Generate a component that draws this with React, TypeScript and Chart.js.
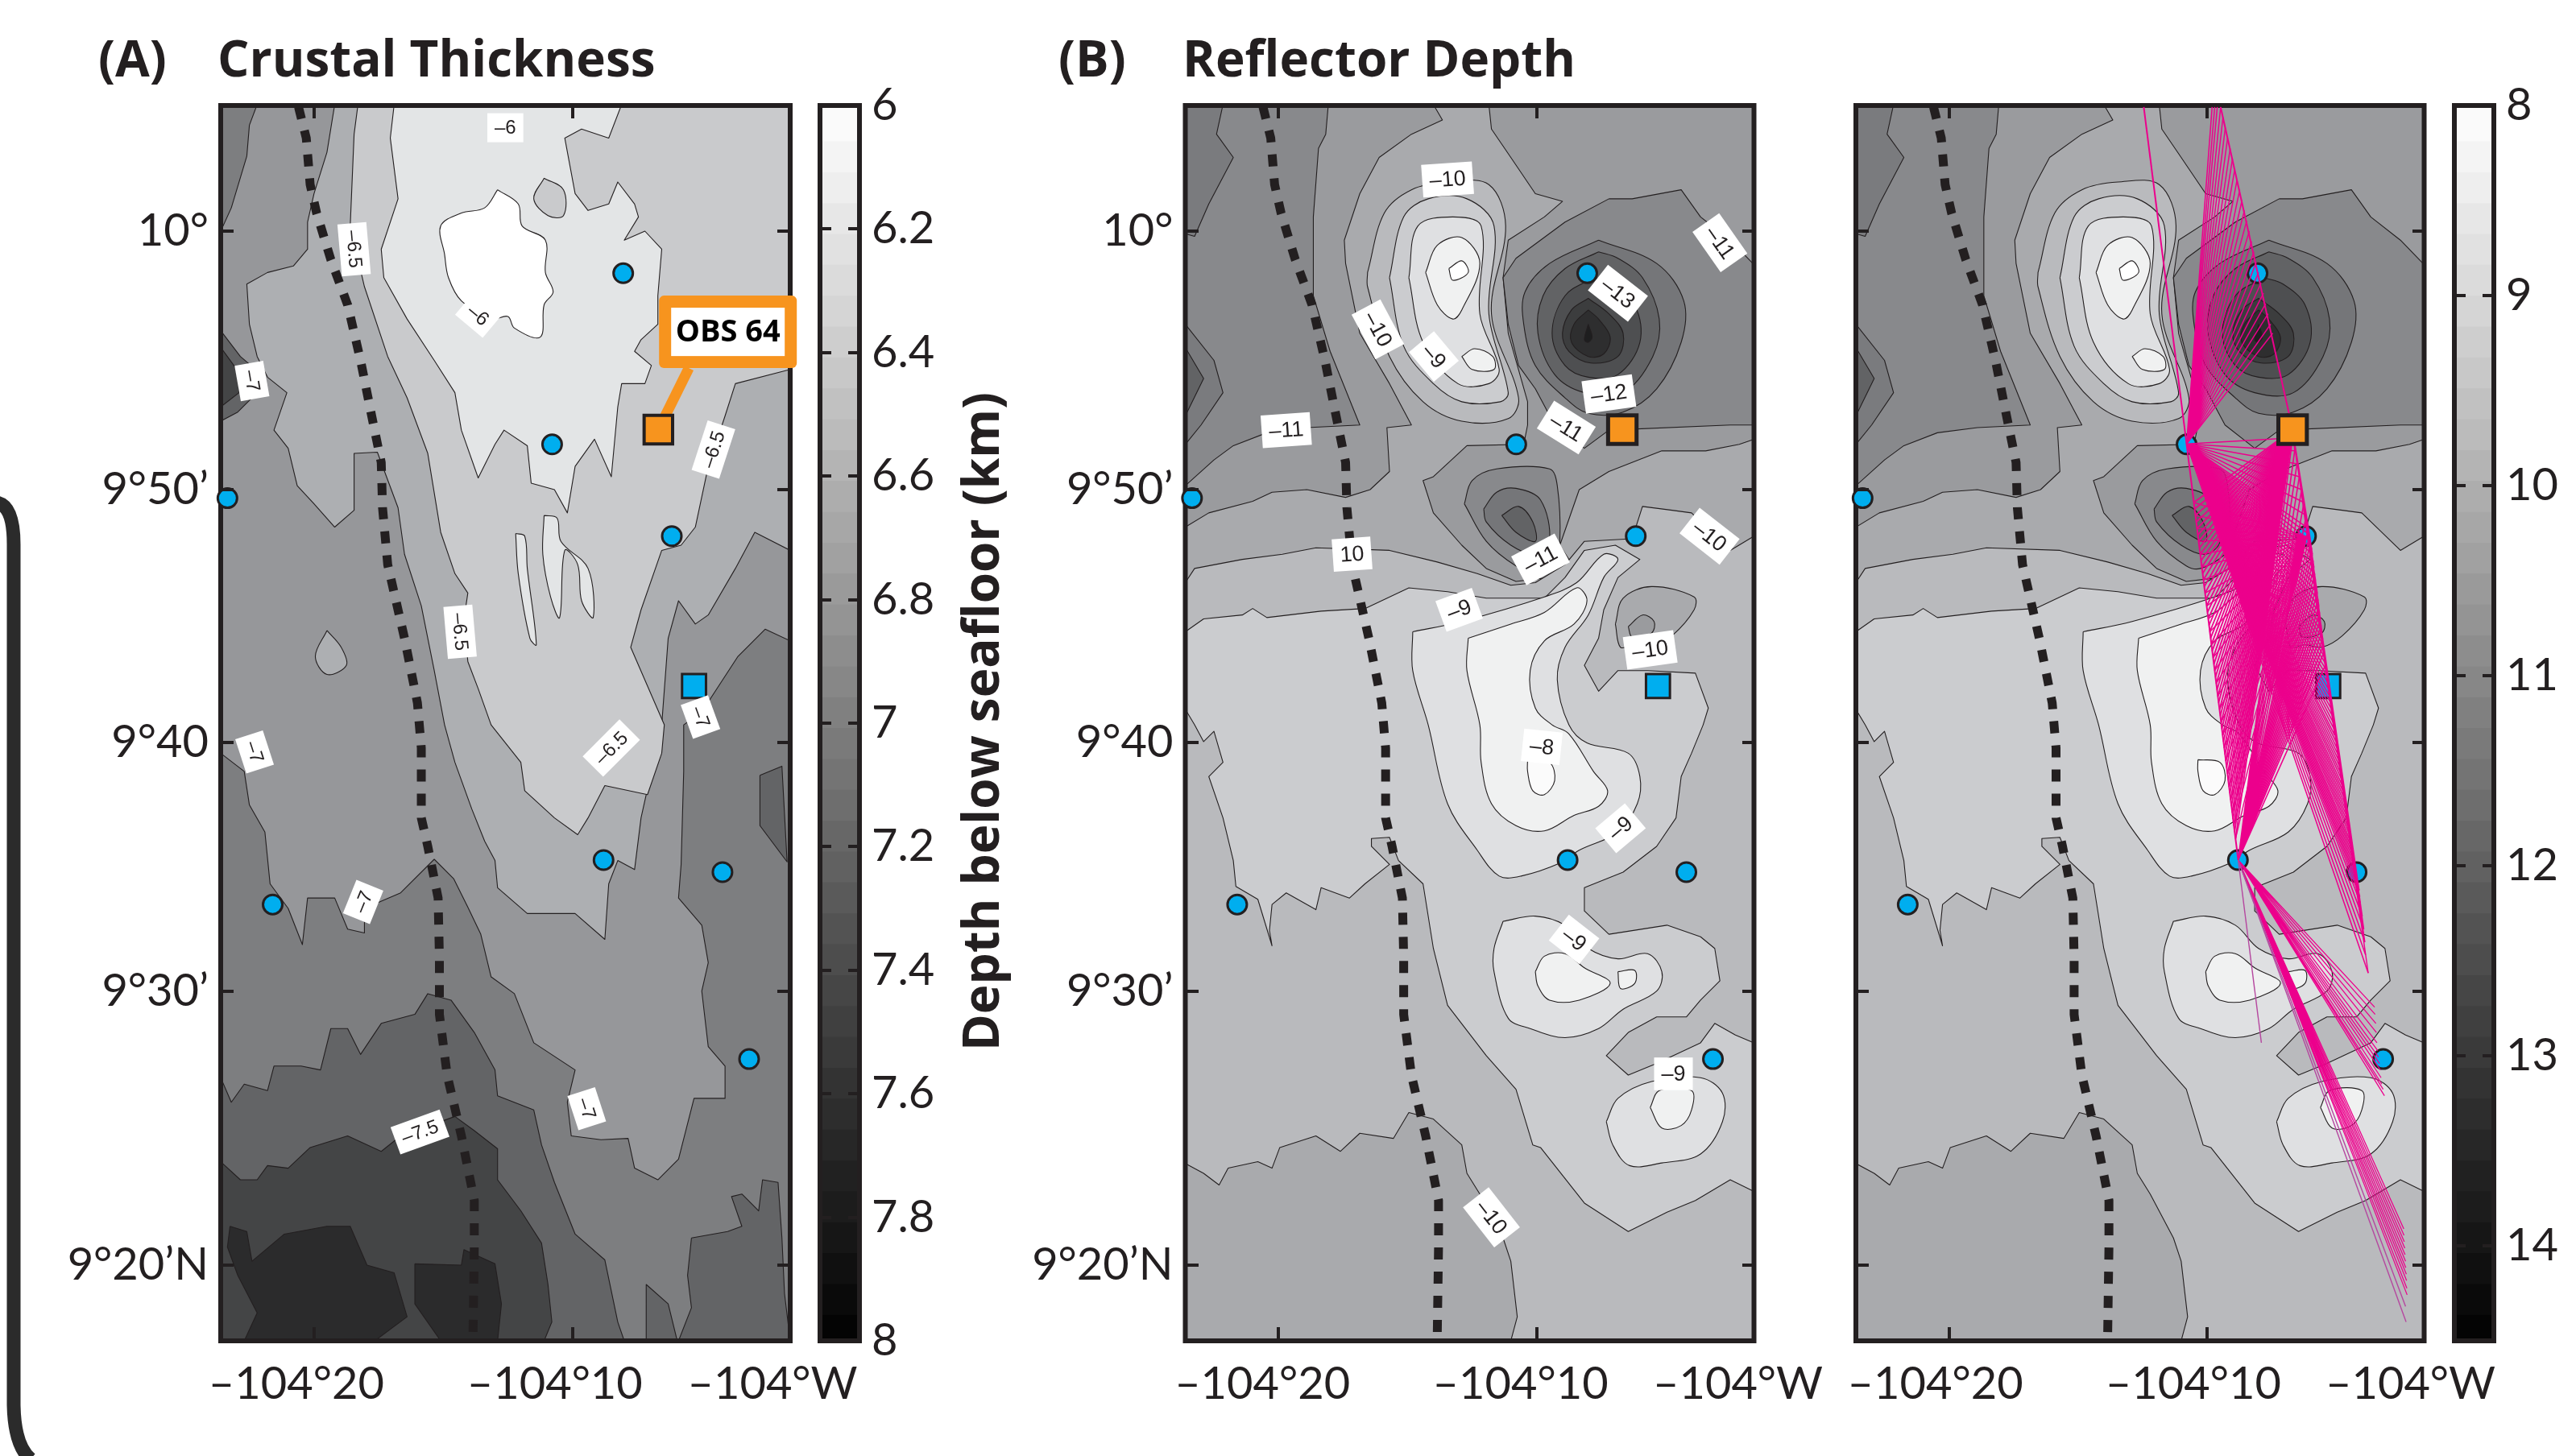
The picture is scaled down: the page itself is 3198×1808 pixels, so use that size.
import React, { useEffect, useRef } from "react";
import { Chart, registerables } from "chart.js";

Chart.register(...registerables);

type P = number[];
const INK = "#231f20";
const LON_MIN = -23.61, LON_MAX = -1.58, LAT_MIN = 17.07, LAT_MAX = 64.86;

const lonTickValues = [-20, -10, -1.58];
const lonTickLabels = ["–104°20", "–104°10", "–104°W"];
const latTickValues = [60, 50, 40.22, 30.58, 20];
const latTickLabels = ["10°", "9°50’", "9°40", "9°30’", "9°20’N"];

const stationLon = [-8.04, -10.79, -6.16, -8.8, -4.2, -3.17, -21.6, -23.35];
const stationLat = [58.37, 51.75, 48.2, 35.67, 35.2, 27.97, 33.95, 49.67];
const blueSquare: P = [-5.3, 42.4];
const orangeSquare: P = [-6.68, 52.32];
const calloutFoot: P = [-5.5, 54.7];

const ridgeAxis: P[] = [[-20.6,64.8],[-20.3,63.6],[-20.15,61.8],[-19.9,60.7],[-19.35,58.9],[-18.7,57.15],[-18.2,55],[-17.8,53],[-17.4,51.05],[-17.35,49.3],[-17.15,47.1],[-16.5,44.25],[-16,41.75],[-15.85,40],[-15.85,37.3],[-15.6,36.2],[-15.2,34.2],[-15.15,31.9],[-15.15,29.7],[-14.85,27.35],[-14.3,25],[-13.8,22.5],[-13.8,20.7],[-13.85,17.25]];

// ---------- Crustal thickness contours ----------
const crustFrame: P[] = [[-23.61,64.86],[-1.58,64.86],[-1.58,17.07],[-23.61,17.07]];
const crust96: P[] = [[-22.2,64.9],[-22.5,64.1],[-22.6,62.9],[-23.2,60.9],[-23.61,60],[-23.61,39.8],[-22.7,39.1],[-22.5,37.8],[-21.9,36.75],[-21.7,34.75],[-21,33.8],[-20.45,32.4],[-20.25,34.2],[-19.2,34.2],[-18.7,33],[-18.05,32.85],[-18.05,33.8],[-16.65,34.4],[-15.35,35.7],[-14.6,34.95],[-14.05,33.85],[-13.55,32.8],[-13.15,31.15],[-12.25,30.5],[-11.5,28.6],[-9.9,27.55],[-10.2,26.3],[-10.05,25],[-8.9,24.85],[-7.85,24.9],[-7.6,23.75],[-6.7,23.3],[-5.9,24.1],[-5.3,26.45],[-4.1,26.45],[-4.1,27.7],[-4.75,28.45],[-5,30.6],[-4.75,31.7],[-5,33.15],[-5.9,34.2],[-5.8,35.5],[-5.7,39.1],[-5.7,40.9],[-5,41.4],[-3.6,43.55],[-2.55,44.6],[-1.58,44.15],[-1.58,64.9]];
const crustAd: P[] = [[-19.2,64.9],[-19.5,63.05],[-20,61.45],[-20.25,60.35],[-20.25,59.3],[-20.8,58.65],[-21.8,58.4],[-22.6,57.95],[-22.5,56.4],[-22.2,55.15],[-21.8,54.35],[-21.05,53.75],[-21.55,52.3],[-21,51.6],[-20.65,50.15],[-20,49.45],[-19.2,48.55],[-18.45,49.2],[-18.45,51.4],[-17.55,51.45],[-16.75,49.3],[-16.5,47.5],[-15.85,45.5],[-15.35,43],[-14.95,40.9],[-14.55,39.45],[-13.9,37.65],[-13.4,36.4],[-13,35.65],[-12.9,34.6],[-11.75,33.6],[-9.9,33.6],[-8.75,32.6],[-8.6,34.75],[-8.25,35.65],[-7.6,35.3],[-7.35,37.3],[-6.55,40.9],[-6.3,44.25],[-5.9,45.7],[-5.25,44.8],[-4.75,45.15],[-3.7,46.95],[-2.95,48.35],[-1.58,47.65],[-1.58,64.9]];
const crustC9: P[] = [[-18.3,64.9],[-18.45,63.75],[-18.6,60.2],[-18.05,57.85],[-17.15,55.15],[-16.4,53.55],[-15.6,51.4],[-15.1,48.35],[-14.55,46.75],[-14.05,46],[-14.2,45],[-14.05,43.35],[-13.65,42.3],[-13.15,40.9],[-12,39.45],[-11.85,38.35],[-10.7,37.3],[-9.8,36.65],[-9.4,37.3],[-8.75,38.55],[-7.1,38.2],[-6.55,39.8],[-6.45,40.9],[-7.75,43.9],[-7.35,45.35],[-6.55,47.65],[-5.8,47.85],[-5.25,48.55],[-4.75,50.9],[-4.1,52.85],[-3.7,54.1],[-1.58,54.65],[-1.58,64.9]];
const crustE3: P[] = [[-16.9,64.9],[-17.05,63.6],[-16.75,61.25],[-17.4,59.3],[-17.3,58.2],[-16.4,56.6],[-15.35,55],[-14.55,53.75],[-14.3,52.3],[-13.65,50.45],[-13,51.75],[-12.65,52.3],[-11.75,51.7],[-11.6,50.25],[-10.7,50],[-10.2,49.1],[-9.9,50.9],[-9.15,51.95],[-8.5,50.5],[-8.25,53.2],[-8.1,54.1],[-7.2,54.1],[-6.95,54.8],[-7.6,55.35],[-7.35,55.8],[-6.7,56.4],[-6.7,57.5],[-6.55,59.3],[-7.2,60],[-8,59.65],[-7.45,60.55],[-7.6,61.05],[-8.25,61.9],[-8.6,61.05],[-9.4,60.8],[-9.9,61.45],[-10.3,63.6],[-9.65,63.95],[-8.6,63.6],[-8.1,64.9]];
const crustTongueA: P[] = [[-12.2,48.3],[-11.85,48.2],[-11.75,46.95],[-11.4,44],[-11.65,44.25],[-12.1,46.75]];
const crustTongueB: P[] = [[-11.1,49],[-10.6,48.9],[-10.45,48],[-9.4,46.95],[-9.2,45.05],[-9.65,45.7],[-9.8,47.1],[-10.3,47.65],[-10.5,45.05],[-10.85,45.85],[-11.15,47.5]];
const crustPatchC9: P[] = [[-11.1,62.05],[-10.35,61.6],[-10.35,60.6],[-10.95,60.6],[-11.5,61.25]];
const crustPatchAd: P[] = [[-19.5,44.55],[-18.95,43.9],[-18.75,43.2],[-19.5,42.85],[-19.95,43.55]];
const crustWhite: P[] = [[-12.9,61.6],[-12.1,61.05],[-11.95,60.2],[-11.05,59.65],[-11.05,58.4],[-10.75,57.65],[-11.1,57.15],[-11.25,55.9],[-12.25,56.25],[-12.5,56.7],[-13.15,56.6],[-14.3,57.3],[-14.8,58.2],[-14.95,59.1],[-15.1,60.2],[-14.3,60.7],[-13.4,60.9]];
const crust63: P[] = [[-23.61,27.25],[-23.2,26.3],[-22.7,27],[-21.8,26.75],[-21.55,27.7],[-20.5,27.7],[-19.75,27.55],[-19.35,29.15],[-18.7,29.15],[-18.2,28.15],[-17.4,29.35],[-16.1,29.7],[-15.6,30.5],[-14.7,30.25],[-13.8,29],[-13,27.55],[-12.9,26.55],[-11.5,26],[-11.2,24.65],[-10.7,23.2],[-9.9,21.2],[-8.75,20.2],[-8.25,17.8],[-8,17.07],[-23.61,17.07]];
const crust63East: P[] = [[-5.4,21.05],[-4,21.3],[-3.45,21.5],[-3.85,22.65],[-3.45,22.75],[-2.8,22.1],[-2.65,23.3],[-2.05,23.2],[-1.9,21.05],[-1.8,18.9],[-1.58,17.07],[-5.9,17.07],[-5.4,18.35],[-5.55,19.6]];
const crust63Mid: P[] = [[-7.15,17.07],[-7.15,19.25],[-6.3,18.5],[-5.95,17.07]];
const crust63Edge: P[] = [[-2.75,38.95],[-1.9,39.3],[-1.7,35.6],[-2.75,37]];
const crust44: P[] = [[-23.61,24],[-22.85,23.3],[-22.2,23.3],[-21.8,23.85],[-21,23.75],[-20.15,24.55],[-18.7,25],[-17.4,24.4],[-16.65,25],[-14.55,25.75],[-13.8,25.2],[-12.9,24.5],[-12.9,23.3],[-12,22.1],[-11.2,20.85],[-10.95,19.25],[-10.8,17.8],[-11.1,17.07],[-23.61,17.07]];
const crust2bWest: P[] = [[-23.25,21.5],[-22.6,21.3],[-22.4,20.15],[-21.15,21.2],[-19.5,21.5],[-18.6,21.5],[-17.95,20],[-16.9,19.7],[-16.4,18],[-17.65,17.07],[-22.7,17.07],[-22.2,18.15],[-22.95,19.6],[-23.35,20.7]];
const crust2bEast: P[] = [[-16.1,20.05],[-14.3,20],[-14.2,20.6],[-13,20.05],[-12.75,18.5],[-12.9,17.07],[-15.1,17.07],[-16.1,18.5]];
const crustBlob63: P[] = [[-23.61,56.15],[-22.85,55.15],[-22.2,54.6],[-22.2,53.75],[-22.95,53],[-23.61,52.65]];
const crustBlob44: P[] = [[-23.61,55.5],[-22.95,54.6],[-22.9,53.75],[-23.61,53.2]];

// ---------- Reflector depth contours ----------
const reflFrame: P[] = [[-23.61,64.86],[-1.58,64.86],[-1.58,17.07],[-23.61,17.07]];
const refl9a: P[] = [[-18.07,64.9],[-18.17,63.75],[-18.45,63.2],[-18.65,60.55],[-18.65,57.5],[-18,55.35],[-16.85,52.5],[-18.9,52.4],[-20.45,52.2],[-21.75,51.7],[-22.5,51.15],[-23.61,50.15],[-23.61,17.07],[-1.58,17.07],[-1.58,64.9]];
const reflA9: P[] = [[-23.61,48.55],[-22.7,49.1],[-21,49.55],[-20.25,49.9],[-18.9,50],[-17.4,49.7],[-16.45,50],[-15.7,50.7],[-15.8,52.4],[-14.85,52.5],[-15.7,54.1],[-16.85,56.05],[-17.4,58.75],[-17.45,59.65],[-16.85,61.45],[-16.1,62.85],[-14.85,63.75],[-13.65,64.3],[-14,64.9],[-11.85,64.9],[-11.75,63.95],[-11,62.85],[-10.05,61.45],[-9,61.15],[-9.7,60.55],[-11.1,59.65],[-11.3,58.2],[-11.1,56.05],[-10.35,53.4],[-10.35,52.5],[-10.5,51.75],[-12.7,51.7],[-14,50.5],[-14.4,50.35],[-14,49.1],[-12.9,47.85],[-11.95,46.95],[-10.8,46.45],[-9.5,46.6],[-8.75,47.3],[-9.1,47.85],[-8.35,50],[-7.2,50.7],[-5.15,51.5],[-3.45,51.5],[-2.15,51.75],[-1.58,51.95],[-1.58,17.07],[-23.61,17.07]];
const reflB9: P[] = [[-23.61,46.4],[-23.25,46.95],[-21.4,47.3],[-19.85,47.5],[-18.55,47.75],[-15.7,47.65],[-13.85,47.2],[-12.3,46.75],[-11,46.3],[-10.05,46.4],[-8.9,47.1],[-8.15,48],[-6.3,48.1],[-5.9,49.35],[-4.75,49.2],[-4,49.1],[-2.5,47.65],[-1.58,48.2],[-1.58,17.07],[-23.61,17.07]];
const reflSouthA9: P[] = [[-23.61,23.93],[-22.9,23.55],[-22.3,23.1],[-21.95,23.75],[-20.8,24],[-20.25,23.75],[-19.95,24.55],[-18.55,25],[-17.6,24.4],[-16.85,25.1],[-15.55,24.9],[-14.95,25.9],[-14,25.65],[-12.9,24.65],[-12.7,23.55],[-12.2,22.75],[-11.3,21.05],[-11,20.15],[-10.75,18],[-11,17.07],[-23.61,17.07]];
const reflCb: P[] = [[-23.61,44.5],[-22.9,45],[-21.4,45.15],[-21,45.4],[-20.45,45.05],[-18.35,45.3],[-16.65,45.4],[-14.95,46.2],[-13.45,46.05],[-11.95,45.8],[-9.7,45.8],[-8.9,46.6],[-8.15,47.65],[-6.95,47.85],[-6,47.3],[-6.85,46.6],[-7.4,45.35],[-7.6,44.25],[-8.15,43.2],[-7.6,42.2],[-6.85,43],[-5.7,43],[-3.85,42.9],[-3.35,41.55],[-3.55,40.9],[-4,39.8],[-4.4,38.9],[-4.6,37.3],[-5.35,36.2],[-6.65,35.2],[-8.15,34.6],[-8.15,33.7],[-7.2,32.8],[-4.95,33.15],[-3.65,32.7],[-3.1,32.25],[-2.9,31],[-3.65,30.25],[-4.2,29.6],[-5.35,29.6],[-6.45,29],[-7.3,28.1],[-6.45,27.35],[-5.35,27.8],[-3.65,28.6],[-3.1,29.35],[-2.3,28.9],[-1.58,28.6],[-1.58,22.85],[-2.5,23.3],[-3.85,22.5],[-4.95,22.05],[-6.45,21.3],[-8.15,22.4],[-9.85,24.55],[-10.15,24.65],[-10.8,26.8],[-11.95,28.1],[-13.45,30.05],[-14,32.25],[-14.4,34.75],[-15.35,35.65],[-15.7,36.55],[-16.4,36.5],[-16.4,36.2],[-15.7,35.5],[-16.65,34.75],[-17.25,34.2],[-18.35,34.6],[-18.55,33.75],[-19.7,34.4],[-20.25,33.95],[-20.35,32.95],[-20.25,32.35],[-20.8,34.15],[-21.65,34.65],[-21.75,35.65],[-22.15,37.3],[-22.7,38.9],[-22.15,39.45],[-22.5,40.65],[-22.9,40.25],[-23.25,40.9],[-23.61,41.5]];
const lobeB9: P[] = [[-16.55,58.4],[-15.9,60.7],[-14.85,61.6],[-13.45,61.9],[-11.85,61.8],[-11.2,60.2],[-11.75,56.8],[-10.7,53.55],[-11.1,52.75],[-12.9,52.65],[-14.4,53.4],[-15.7,55.15],[-16.55,57.85]];
const lobeCb: P[] = [[-15.7,58.2],[-15.15,60.55],[-14.2,61.25],[-12.7,61.25],[-11.65,60.2],[-11.85,56.8],[-11.1,53.75],[-11.4,53.4],[-12.9,53.4],[-14,54.1],[-15.15,55.55]];
const lobeDf: P[] = [[-14.95,58.2],[-14.6,60.2],[-13.25,60.55],[-12.15,60.2],[-12.2,56.8],[-11.45,54.65],[-11.85,54.1],[-13.05,54.1],[-14.4,55.7]];
const lobeF0: P[] = [[-14.3,58.4],[-13.85,59.45],[-12.9,59.75],[-12.2,58.75],[-12.9,56.95],[-13.25,56.6],[-13.85,57.15]];
const lobeCore: P[] = [[-13.4,58.55],[-12.9,58.85],[-12.65,58.4],[-13.25,58.1]];
const lobeLower: P[] = [[-12.9,55.15],[-12.4,55.45],[-11.7,55.15],[-11.65,54.65],[-12.5,54.65]];
const midDf: P[] = [[-14.8,44.5],[-12.9,44.9],[-9.7,45.85],[-8.45,46.4],[-7.4,47.5],[-6.85,47.3],[-7.4,46.6],[-8,45.15],[-8.9,43.9],[-9.2,42.65],[-8.75,40.9],[-8.05,40.2],[-6.45,39.8],[-6,38.9],[-6.1,37.85],[-6.85,36.75],[-8.35,36.05],[-9.1,35.55],[-10.6,35.05],[-11.45,35.05],[-12.3,36.05],[-13.45,37.85],[-14.2,40.9],[-14.8,43]];
const midF0: P[] = [[-12.65,44.25],[-11,44.8],[-9.7,45.25],[-8.45,46.2],[-8.05,45.7],[-8.55,44.8],[-9.7,44.15],[-10.25,43],[-10.05,41.55],[-9.4,40.9],[-8.75,40.55],[-7.8,39.1],[-7.25,38.35],[-7.6,37.75],[-8.55,37.4],[-9.7,36.8],[-10.8,37],[-11.75,37.85],[-12.15,39.45],[-12.2,40.9],[-12.7,43]];
const midCore: P[] = [[-10.35,39.55],[-9.5,39.45],[-9.3,38.75],[-9.7,38.2],[-10.15,38.35],[-10.35,39.1]];
const southDfA: P[] = [[-11.3,33.3],[-10.05,33.5],[-8.9,33.15],[-8,32.25],[-6.85,31.85],[-5.7,32.05],[-5.15,31.35],[-5.35,30.6],[-6.65,29.9],[-7.6,29.15],[-8.9,28.8],[-10.25,29.15],[-11.1,29.55],[-11.65,31.35],[-11.65,32.25]];
const southF0A: P[] = [[-10.05,31.35],[-9.7,31.95],[-8.9,32.05],[-8.15,31.5],[-7.15,30.9],[-8.35,30.25],[-9.5,30.25],[-9.95,30.8]];
const southF0B: P[] = [[-6.85,31.35],[-6.2,31.4],[-6.2,30.9],[-6.75,30.7]];
const southDfB: P[] = [[-7.3,25.55],[-6.85,26.45],[-5.55,27.1],[-3.65,27.25],[-2.8,26.65],[-2.8,25.55],[-3.65,24.3],[-5.15,23.95],[-6.4,23.85],[-7.05,24.65]];
const southF0C: P[] = [[-5.6,26.1],[-5.25,26.75],[-4,26.75],[-4,26],[-4.4,25.4],[-5.15,25.3]];
const patchA9: P[] = [[-6.95,44.8],[-6.65,45.8],[-5.55,46.25],[-3.9,45.85],[-3.9,45.35],[-4.75,44.35],[-5.55,43.9],[-6.2,44],[-6.75,43.9]];
const patch9a: P[] = [[-6.45,44.7],[-5.9,45.15],[-5.45,44.9],[-5.55,44.45],[-6.3,44.3]];
const well88: P[] = [[-7.2,61.25],[-8.9,60.35],[-10.8,58.95],[-11.3,58.2],[-11.1,56.4],[-10.7,54.8],[-10.05,53.9],[-9.3,52.5],[-8.15,51.6],[-7.2,52.3],[-2.5,52.5],[-1.58,52.5],[-1.58,58.7],[-2.5,59.65],[-3.65,60.55],[-4.4,61.6],[-6.3,61.25]];
const well75: P[] = [[-7.6,59.65],[-9.5,58.75],[-10.45,57.65],[-10.5,56.4],[-10.05,54.8],[-8.9,53.55],[-8,52.95],[-6.65,53],[-5.35,53.9],[-4.4,55.7],[-4.3,57.3],[-5.35,58.75]];
const well62: P[] = [[-7.6,59.2],[-8.9,58.55],[-9.75,57.5],[-9.95,56.05],[-9.3,54.45],[-8.15,53.75],[-6.65,53.75],[-5.5,55.15],[-5.25,56.6],[-5.9,58.2],[-6.85,58.95]];
const well4e: P[] = [[-7.8,58.2],[-8.9,57.5],[-9.4,56.05],[-8.9,54.8],[-8,54.35],[-6.85,54.45],[-6,55.7],[-6.2,57.15],[-7.05,57.95]];
const well3c: P[] = [[-8,57.4],[-8.65,56.95],[-9,56.05],[-8.75,55.35],[-7.9,54.9],[-6.85,55.15],[-6.65,56.05],[-7.2,56.8]];
const well2e: P[] = [[-8,56.95],[-8.55,56.4],[-8.65,55.7],[-8,55.15],[-7.4,55.25],[-7.15,55.9],[-7.6,56.6]];
const well1e: P[] = [[-8,56.4],[-8.15,55.8],[-8,55.7],[-7.85,55.9]];
const troughA88: P[] = [[-12.8,49.45],[-12.5,50.35],[-11.55,50.8],[-9.5,50.8],[-9.2,50.15],[-9.1,48],[-9.3,47.5],[-10.25,46.95],[-10.8,47.05],[-11.95,48]];
const troughA75: P[] = [[-12.05,49.25],[-11.55,49.9],[-10.8,50.05],[-9.85,49.6],[-9.5,48],[-10.05,47.5],[-11,47.85],[-11.95,48.75]];
const troughA62: P[] = [[-11.35,49],[-10.7,49.35],[-10.15,48.75],[-10.05,48],[-10.8,48.35]];
const bumpWest7a: P[] = [[-23.61,56.4],[-22.5,55],[-22.15,53.75],[-23,52.5],[-23.61,51.75]];
const bumpWest62: P[] = [[-23.61,55.5],[-22.9,54.3],[-23.61,52.85]];
const cornerWest7a: P[] = [[-23.61,64.9],[-22.15,64.9],[-22.4,63.75],[-21.75,62.85],[-22.7,61.05],[-23.25,59.8],[-23.61,59.9]];

// ---------- Ray fans (panel on the right) ----------
const receiverS1: P = [-10.79, 51.77];
const receiverS2: P = [-8.79, 35.67];
const receiverS3: P = [-6.68, 52.32];
const receiverS5: P = [-6.14, 48.19];
const shotsNorth: P[] = [[-9.47,64.8],[-9.38,64.4],[-9.29,64],[-9.2,63.6],[-9.1,63.2],[-9.01,62.8],[-8.92,62.4],[-8.83,62],[-8.73,61.6],[-8.64,61.2],[-8.55,60.8],[-8.46,60.4],[-8.36,60],[-8.27,59.6],[-8.18,59.2],[-8.09,58.8],[-8,58.4],[-7.9,58],[-7.81,57.6],[-7.72,57.2],[-7.63,56.8],[-7.53,56.4],[-7.45,56.05],[-9.8,64.8],[-9.7,64.8],[-9.6,64.8]];
const shotsA: P[] = [[-10.51,49.5],[-10.45,49],[-10.38,48.5],[-10.32,48],[-10.26,47.5],[-10.2,47],[-10.14,46.5],[-10.07,46],[-10.01,45.5],[-9.95,45],[-9.89,44.5],[-9.83,44],[-9.76,43.5],[-9.7,43],[-9.64,42.5],[-9.58,42],[-9.51,41.5],[-9.45,41],[-9.39,40.5],[-9.33,40],[-9.27,39.5],[-9.2,39],[-9.14,38.5],[-9.08,38],[-9.02,37.5],[-8.96,37],[-8.89,36.5]];
const shotsAFine: P[] = [[-10.48,49.25],[-10.41,48.75],[-10.35,48.25],[-10.29,47.75],[-10.23,47.25],[-10.17,46.75],[-10.1,46.25],[-10.04,45.75],[-9.98,45.25],[-9.92,44.75],[-9.86,44.25],[-9.8,43.75],[-9.73,43.25],[-9.67,42.75],[-9.61,42.25],[-9.55,41.75],[-9.48,41.25],[-9.42,40.75],[-9.36,40.25],[-9.3,39.75],[-9.24,39.25],[-9.17,38.75],[-9.11,38.25],[-9.05,37.75],[-8.99,37.25],[-8.93,36.75]];
const shotsB: P[] = [[-6.68,52],[-6.6,51.5],[-6.51,51],[-6.42,50.5],[-6.33,50],[-6.24,49.5],[-6.15,49],[-6.07,48.5],[-5.98,48],[-5.91,47.5],[-5.85,47],[-5.79,46.5],[-5.72,46],[-5.66,45.5],[-5.6,45],[-5.54,44.5],[-5.48,44],[-5.42,43.5],[-5.36,43],[-5.3,42.5],[-5.24,42],[-5.17,41.5],[-5.11,41],[-5.05,40.5],[-4.96,40],[-4.88,39.5],[-4.8,39],[-4.73,38.5],[-4.65,38],[-4.57,37.5],[-4.49,37],[-4.41,36.5],[-4.34,36],[-4.26,35.5],[-4.18,35],[-4.1,34.5],[-4.05,34],[-3.98,33.5],[-3.92,33],[-3.88,32.5],[-3.85,32],[-3.75,31.3]];
const shotsBFine: P[] = [[-6.02,48.25],[-5.94,47.75],[-5.88,47.25],[-5.82,46.75],[-5.75,46.25],[-5.69,45.75],[-5.63,45.25],[-5.57,44.75],[-5.51,44.25],[-5.45,43.75],[-5.39,43.25],[-5.33,42.75],[-5.27,42.25],[-5.2,41.75],[-5.14,41.25],[-5.08,40.75],[-5,40.25],[-4.92,39.75],[-4.84,39.25],[-4.76,38.75],[-4.69,38.25],[-4.61,37.75],[-4.53,37.25],[-4.45,36.75],[-4.38,36.25],[-4.3,35.75],[-4.22,35.25],[-4.14,34.75],[-4.07,34.25]];
const shotsSouthC: P[] = [[-3.5,29.98],[-3.48,29.7],[-3.45,29.35],[-3.43,29],[-3.41,28.6],[-3.38,28.3],[-3.35,28.05],[-3.31,27.8],[-3.28,27.55],[-3.25,27.25],[-3.22,27],[-3.17,26.8],[-3.12,26.55]];
const shotsSouthD: P[] = [[-2.37,21.4],[-2.36,21.15],[-2.35,20.9],[-2.33,20.65],[-2.32,20.4],[-2.3,20.15],[-2.29,19.9],[-2.27,19.65],[-2.26,19.4],[-2.25,19.1],[-2.24,18.85]];
const singleRaysPink: P[][] = [[[-12.45,64.8],receiverS1],[[-9.47,64.8],receiverS3],[receiverS1,receiverS2]];
const singleRaysPurple: P[][] = [[receiverS2,[-7.89,28.6]],[receiverS2,[-2.28,17.8]],[receiverS2,[-2.3,18.4]]];

// ---------- Labels ----------
const crustLabels = [
  { lon: -12.6, lat: 64, text: "–6", angle: 0 },
  { lon: -18.45, lat: 59.3, text: "–6.5", angle: 85 },
  { lon: -13.65, lat: 56.75, text: "–6", angle: 40 },
  { lon: -22.4, lat: 54.2, text: "–7", angle: 80 },
  { lon: -4.55, lat: 51.55, text: "–6.5", angle: -72 },
  { lon: -14.35, lat: 44.5, text: "–6.5", angle: 85 },
  { lon: -5.05, lat: 41.2, text: "–7", angle: 70 },
  { lon: -8.5, lat: 40, text: "–6.5", angle: -45 },
  { lon: -22.3, lat: 39.85, text: "–7", angle: 72 },
  { lon: -18.1, lat: 34.05, text: "–7", angle: -68 },
  { lon: -15.9, lat: 25.15, text: "–7.5", angle: -20 },
  { lon: -9.45, lat: 26.05, text: "–7", angle: 72 },
];
const reflectorLabels = [
  { lon: -13.45, lat: 62, text: "–10", angle: -4 },
  { lon: -16.15, lat: 56.2, text: "–10", angle: 62 },
  { lon: -13.98, lat: 55.15, text: "–9", angle: 50 },
  { lon: -6.85, lat: 57.6, text: "–13", angle: 38 },
  { lon: -2.9, lat: 59.55, text: "–11", angle: 55 },
  { lon: -7.2, lat: 53.7, text: "–12", angle: -8 },
  { lon: -8.85, lat: 52.4, text: "–11", angle: 32 },
  { lon: -19.7, lat: 52.3, text: "–11", angle: -4 },
  { lon: -17.15, lat: 47.5, text: "10", angle: -4 },
  { lon: -9.85, lat: 47.3, text: "–11", angle: -28 },
  { lon: -3.3, lat: 48.2, text: "–10", angle: 38 },
  { lon: -13, lat: 45.35, text: "–9", angle: -20 },
  { lon: -5.6, lat: 43.8, text: "–10", angle: -8 },
  { lon: -9.8, lat: 40.05, text: "–8", angle: 6 },
  { lon: -6.75, lat: 36.9, text: "–9", angle: -40 },
  { lon: -8.55, lat: 32.6, text: "–9", angle: 38 },
  { lon: -4.7, lat: 27.4, text: "–9", angle: 0 },
  { lon: -11.75, lat: 21.85, text: "–10", angle: 52 },
];

// ---------- Colour bars ----------
const barGrays = [250,244,238,231,225,219,213,206,200,193,187,180,173,167,161,154,148,141,135,128,122,116,110,103,97,90,83,77,70,64,58,51,45,39,33,28,22,16,10,4];

const crustLayers: [P[], string][] = [
  [crustFrame, "#7d7e80"], [crust96, "#96979a"], [crustAd, "#adafb2"], [crustC9, "#c9cacc"],
  [crustE3, "#e3e5e6"], [crustPatchC9, "#c9cacc"], [crustPatchAd, "#adafb2"], [crustTongueA, "#e3e5e6"], [crustTongueB, "#e3e5e6"],
  [crustWhite, "#ffffff"], [crust63, "#636466"], [crust63East, "#636466"], [crust63Mid, "#636466"], [crust63Edge, "#636466"],
  [crust44, "#444546"], [crust2bWest, "#2b2b2c"], [crust2bEast, "#2b2b2c"], [crustBlob63, "#636466"], [crustBlob44, "#444546"],
];
const reflectorLayers: [P[], string][] = [
  [reflFrame, "#88898c"], [refl9a, "#9a9b9e"], [reflA9, "#a9aaad"], [reflB9, "#b9babd"], [reflSouthA9, "#a9aaad"], [reflCb, "#cbcccf"],
  [lobeB9, "#b9babd"], [lobeCb, "#cbcccf"], [lobeDf, "#dfe0e2"], [lobeF0, "#f0f1f1"], [lobeCore, "#ffffff"], [lobeLower, "#f0f1f1"],
  [midDf, "#dfe0e2"], [midF0, "#f0f1f1"], [midCore, "#fbfbfb"], [southDfA, "#dfe0e2"], [southF0A, "#f0f1f1"], [southF0B, "#f0f1f1"],
  [southDfB, "#dfe0e2"], [southF0C, "#f0f1f1"], [patchA9, "#a9aaad"], [patch9a, "#9a9b9e"],
  [well88, "#88898c"], [well75, "#757679"], [well62, "#626365"], [well4e, "#4e4f51"], [well3c, "#3c3d3e"], [well2e, "#2e2e2f"], [well1e, "#1e1e1f"],
  [troughA88, "#88898c"], [troughA75, "#757679"], [troughA62, "#626365"], [bumpWest7a, "#7a7b7e"], [bumpWest62, "#626365"], [cornerWest7a, "#7a7b7e"],
];

const pts = (a: P[]) => a.map(([x, y]) => ({ x, y }));
const fan = (apex: P, shots: P[]) => shots.flatMap((s) => [{ x: apex[0], y: apex[1] }, { x: s[0], y: s[1] }]);
const touchesFrame = (poly: P[]) => poly.some(([x, y]) => x <= -23.5 || x >= -1.7 || y >= 64.7 || y <= 17.2);

function layerDatasets(layers: [P[], string][]) {
  return layers.map(([poly, color]) => ({
    data: pts([...poly, poly[0]]),
    polyFill: color,
    showLine: true,
    borderColor: INK,
    borderWidth: 1.1,
    borderJoinStyle: "round",
    tension: touchesFrame(poly) ? 0 : 0.35,
    pointRadius: 0,
  }));
}
const ridgeDataset = () => ({ data: pts(ridgeAxis), showLine: true, borderColor: INK, borderWidth: 11, borderDash: [15, 15], pointRadius: 0 });
const frameDataset = () => ({ data: pts(crustFrame), showLine: false, pointRadius: 0, frameMark: true });
const stationDataset = () => ({
  data: stationLon.map((x, i) => ({ x, y: stationLat[i] })),
  showLine: false, pointRadius: 12, pointBackgroundColor: "#00aeef", pointBorderColor: INK, pointBorderWidth: 3, clip: false,
});
const squareDataset = (p: P, color: string, radius: number, bw: number) => ({
  data: pts([p]), showLine: false, pointStyle: "rect", pointRadius: radius, pointBackgroundColor: color, pointBorderColor: INK, pointBorderWidth: bw, clip: false,
});
const rayDataset = (data: any[], color: string, width: number) => ({
  data, showLine: true, borderColor: color, borderWidth: width, borderJoinStyle: "bevel", pointRadius: 0,
});

const mapPlugin = (title: { tag?: string; tagX?: number; text?: string; textX?: number }, labels: any[], labelFont: number, callout: boolean) => ({
  id: "mapPlugin",
  beforeDatasetDraw(chart: any, args: any) {
    const ds = chart.data.datasets[args.index];
    if (!ds.polyFill) return;
    const { ctx, chartArea: a } = chart;
    const points = chart.getDatasetMeta(args.index).data;
    ctx.save();
    ctx.beginPath();
    ctx.rect(a.left, a.top, a.right - a.left, a.bottom - a.top);
    ctx.clip();
    ctx.beginPath();
    points.forEach((p: any, i: number) => {
      if (!i) ctx.moveTo(p.x, p.y);
      else if (ds.tension) {
        const q = points[i - 1];
        ctx.bezierCurveTo(q.cp2x, q.cp2y, p.cp1x, p.cp1y, p.x, p.y);
      } else ctx.lineTo(p.x, p.y);
    });
    ctx.closePath();
    ctx.fillStyle = ds.polyFill;
    ctx.fill();
    ctx.restore();
  },
  afterDatasetDraw(chart: any, args: any) {
    const ds = chart.data.datasets[args.index];
    if (!ds.frameMark) return;
    const { ctx, chartArea: a } = chart;
    ctx.save();
    ctx.strokeStyle = INK;
    ctx.lineWidth = 6;
    ctx.strokeRect(a.left, a.top, a.right - a.left, a.bottom - a.top);
    ctx.restore();
  },
  afterDatasetsDraw(chart: any) {
    const { ctx, scales } = chart;
    ctx.save();
    ctx.textAlign = "center";
    ctx.textBaseline = "middle";
    labels.forEach((l) => {
      ctx.save();
      ctx.translate(scales.x.getPixelForValue(l.lon), scales.y.getPixelForValue(l.lat));
      ctx.rotate((l.angle * Math.PI) / 180);
      ctx.font = `${labelFont}px "Liberation Sans"`;
      const w = ctx.measureText(l.text).width + 18;
      const h = labelFont * 1.5;
      ctx.fillStyle = "#ffffff";
      ctx.fillRect(-w / 2, -h / 2, w, h);
      ctx.fillStyle = INK;
      ctx.fillText(l.text, 0, 1);
      ctx.restore();
    });
    if (callout) {
      const cx = scales.x.getPixelForValue(calloutFoot[0]);
      const bottom = scales.y.getPixelForValue(calloutFoot[1]);
      const x = cx - 37, y = bottom - 90, w = 171, h = 90;
      ctx.fillStyle = "#f7941e";
      ctx.beginPath();
      ctx.roundRect(x, y, w, h, 6);
      ctx.fill();
      ctx.fillStyle = "#ffffff";
      ctx.fillRect(x + 15, y + 15, w - 30, h - 30);
      ctx.fillStyle = "#000000";
      ctx.font = '700 38px "Open Sans"';
      ctx.fillText("OBS 64", x + w / 2, y + h / 2 + 1);
    }
    ctx.fillStyle = "#231f20";
    ctx.textAlign = "left";
    ctx.font = '700 62px "Open Sans"';
    if (title.tag) ctx.fillText(title.tag, title.tagX, 77);
    if (title.text) ctx.fillText(title.text, title.textX, 77);
    ctx.restore();
  },
});

function mapConfig(datasets: any[], yWidth: number, padRight: number, showLat: boolean, plugin: any, xOffset: number) {
  const width = 707;
  return {
    type: "scatter",
    data: { datasets: datasets.map((d, i) => ({ ...d, order: datasets.length - i })) },
    plugins: [plugin],
    options: {
      responsive: false,
      animation: false,
      events: [],
      layout: { autoPadding: false, padding: { top: 131, right: padRight, bottom: 0, left: 0 } },
      plugins: { legend: { display: false }, tooltip: { enabled: false } },
      scales: {
        x: {
          type: "linear", min: LON_MIN, max: LON_MAX,
          afterFit: (s: any) => { s.height = 143; s.paddingLeft = 0; s.paddingRight = 0; },
          afterBuildTicks: (s: any) => { s.ticks = lonTickValues.map((value) => ({ value })); },
          ticks: { autoSkip: false, maxRotation: 0, padding: 20, labelOffset: xOffset, color: INK, font: { family: "Lato", size: 56 }, callback: (_v: any, i: number) => lonTickLabels[i] },
          grid: { z: 1, color: INK, lineWidth: 4, drawTicks: false },
          border: { display: false, dash: [16, 1501] },
        },
        y: {
          type: "linear", min: LAT_MIN, max: LAT_MAX,
          afterFit: (s: any) => { s.width = yWidth; s.paddingTop = 0; s.paddingBottom = 0; },
          afterBuildTicks: (s: any) => { s.ticks = latTickValues.map((value) => ({ value })); },
          ticks: { autoSkip: false, display: showLat, padding: 15, color: INK, font: { family: "Lato", size: 56 }, callback: (_v: any, i: number) => latTickLabels[i] },
          grid: { z: 1, color: INK, lineWidth: 4, drawTicks: false },
          border: { display: false, dash: [16, width - 32] },
        },
      },
    },
  };
}

function barConfig(min: number, max: number, step: number, reach: number, padLeft: number, title?: { text: string; x: number; y: number }) {
  const n = barGrays.length;
  const span = (max - min) / n;
  const datasets = barGrays.map((g, i) => ({
    data: [[min + i * span, min + (i + 1.15) * span > max ? max : min + (i + 1.15) * span]],
    backgroundColor: `rgb(${g},${g},${g})`,
    borderWidth: 0,
    grouped: false,
    barPercentage: 1,
    categoryPercentage: 1,
  }));
  return {
    type: "bar",
    data: { labels: ["scale"], datasets },
    plugins: [{
      id: "barFrame",
      afterDatasetsDraw(chart: any) {
        const { ctx, chartArea: a } = chart;
        ctx.save();
        ctx.strokeStyle = INK;
        ctx.lineWidth = 6;
        ctx.strokeRect(a.left, a.top, a.right - a.left, a.bottom - a.top);
        if (title) {
          ctx.translate(title.x, title.y);
          ctx.rotate(-Math.PI / 2);
          ctx.textAlign = "center";
          ctx.textBaseline = "middle";
          ctx.fillStyle = INK;
          ctx.font = '700 62px "Open Sans"';
          ctx.fillText(title.text, 0, 0);
        }
        ctx.restore();
      },
    }],
    options: {
      responsive: false,
      animation: false,
      events: [],
      layout: { autoPadding: false, padding: { top: 131, right: 0, bottom: 143, left: padLeft } },
      plugins: { legend: { display: false }, tooltip: { enabled: false } },
      scales: {
        x: { display: false, stacked: false, grid: { display: false } },
        y: {
          position: "right", reverse: true, min, max,
          afterFit: (s: any) => { s.width = reach; s.paddingTop = 0; s.paddingBottom = 0; },
          ticks: { stepSize: step, includeBounds: false, autoSkip: false, padding: 15, color: INK, font: { family: "Lato", size: 56 }, callback: (v: number) => String(+v.toFixed(1)) },
          grid: { z: 1, color: INK, lineWidth: 4, drawTicks: false },
          border: { display: false, dash: [14, 21] },
        },
      },
    },
  };
}

const CANVASES = [
  { left: 0, width: 1100 },
  { left: 1000, width: 300 },
  { left: 1270, width: 1010 },
  { left: 2285, width: 815 },
  { left: 3030, width: 168 },
];

export default function App() {
  const refs = useRef<(HTMLCanvasElement | null)[]>([]);
  useEffect(() => {
    const crust = [
      ...layerDatasets(crustLayers),
      ridgeDataset(),
      frameDataset(),
      stationDataset(),
      squareDataset(blueSquare, "#00aeef", 21, 3),
      { data: pts([orangeSquare, calloutFoot]), showLine: true, borderColor: "#f7941e", borderWidth: 13, pointRadius: 0 },
      squareDataset(orangeSquare, "#f7941e", 25, 4),
    ];
    const reflector = [
      ...layerDatasets(reflectorLayers),
      ridgeDataset(),
      frameDataset(),
      stationDataset(),
      squareDataset(blueSquare, "#00aeef", 21, 3),
      squareDataset(orangeSquare, "#f7941e", 25, 5),
    ];
    const raysPanel = [
      ...layerDatasets(reflectorLayers),
      ridgeDataset(),
      frameDataset(),
      stationDataset(),
      squareDataset(blueSquare, "#00aeef", 21, 3),
      rayDataset(fan(receiverS1, shotsNorth), "#ec008c", 1.5),
      rayDataset(fan(receiverS1, shotsB), "#ec008c", 1.5),
      rayDataset(fan(receiverS1, shotsBFine), "#ec008c", 1.5),
      rayDataset(fan(receiverS3, shotsA), "#ec008c", 1.8),
      rayDataset(fan(receiverS3, shotsAFine), "#ec008c", 1.8),
      rayDataset(fan(receiverS3, shotsB), "#ec008c", 1.4),
      rayDataset(fan(receiverS5, shotsA), "#ec008c", 1.4),
      rayDataset(fan(receiverS2, shotsB.slice(0, 17)), "#ec008c", 1.6),
      rayDataset(fan(receiverS2, shotsBFine.slice(0, 11)), "#ec008c", 1.6),
      rayDataset(fan(receiverS2, shotsSouthC), "#ec008c", 1.3),
      rayDataset(fan(receiverS2, shotsSouthD), "#ec008c", 1.3),
      ...singleRaysPink.map((r) => rayDataset(pts(r), "#ec008c", 2)),
      ...singleRaysPurple.map((r) => rayDataset(pts(r), "#b5479f", 1.4)),
      squareDataset(orangeSquare, "#f7941e", 25, 5),
    ];
    const configs: any[] = [
      mapConfig(crust, 274, 119, true, mapPlugin({ tag: "(A)", tagX: 122, text: "Crustal Thickness", textX: 270 }, crustLabels, 24, true), -22),
      barConfig(6, 8, 0.2, 233, 18, { text: "Depth below seafloor (km)", x: 222, y: 896 }),
      mapConfig(reflector, 201.5, 102.5, true, mapPlugin({ tag: "(B)", tagX: 44, text: "Reflector Depth", textX: 198 }, reflectorLabels, 27, false), -20),
      mapConfig(raysPanel, 19, 90.5, false, mapPlugin({}, [], 24, false), -17),
      barConfig(8, 14.5, 1, 102, 17),
    ];
    const charts = configs.map((c, i) => new Chart(refs.current[i] as HTMLCanvasElement, c));
    return () => charts.forEach((c) => c.destroy());
  }, []);
  return (
    <div style={{ position: "absolute", left: 0, top: 0, width: 3198, height: 1808, overflow: "hidden", background: "#fff" }}>
      <svg width={60} height={1808} style={{ position: "absolute", left: 0, top: 0 }}>
        <path d="M -4 624 Q 17 628 17 676 L 17 1745 Q 18 1795 38 1812" fill="none" stroke="#2b2b2b" strokeWidth={17} />
      </svg>
      {CANVASES.map((c, i) => (
        <canvas
          key={i}
          ref={(el) => { refs.current[i] = el; }}
          width={c.width}
          height={1808}
          style={{ position: "absolute", left: c.left, top: 0, width: c.width, height: 1808 }}
        />
      ))}
    </div>
  );
}
